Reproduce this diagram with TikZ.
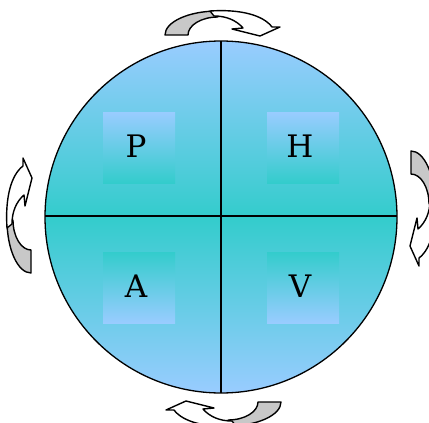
\documentclass[tikz,border=0pt]{standalone}
\usepackage{fontspec}
\setmainfont{DejaVu Serif}
\definecolor{lb}{HTML}{99CCFF}
\definecolor{tq}{HTML}{33CCCC}
\definecolor{ag}{HTML}{C8C8C8}
\begin{document}
\begin{tikzpicture}[x=1pt,y=-1pt,line join=round,
  quad/.style={draw=none,minimum width=72pt,minimum height=71pt,inner sep=0pt},
  lbl/.style={font=\fontsize{31}{31}\selectfont,inner sep=0pt},
  arrowline/.style={draw=black,line width=1.4pt},
  cyclearrow/.pic={
    \filldraw[fill=ag,arrowline] (-56,-182) .. controls (-56,-195.2) and (-32.3,-206) .. (-3,-206)
      -- (-3,-200) .. controls (-19.6,-200) and (-33,-191.9) .. (-33,-182) -- cycle;
    \filldraw[fill=white,arrowline] (-11,-206) .. controls (19,-208) and (42,-202) .. (51,-190)
      -- (59,-190) -- (39,-181) -- (11,-188) -- (22,-189)
      .. controls (15,-197) and (5,-201) .. (-7,-201) -- cycle;
  }]
\clip (0,0) rectangle (429,423);
\fill[white] (0,0) rectangle (429,423);
\coordinate (c) at (221,217);
\fill[top color=lb,bottom color=tq] (45,217) arc[start angle=180,end angle=360,radius=176] -- cycle;
\fill[top color=tq,bottom color=lb] (45,217) arc[start angle=180,end angle=0,radius=176] -- cycle;
\node[quad,top color=lb,bottom color=tq] (sqP) at (139,147.5) {};
\node[quad,top color=lb,bottom color=tq] (sqH) at (303,147.5) {};
\node[quad,top color=tq,bottom color=lb] (sqA) at (139,287.5) {};
\node[quad,top color=tq,bottom color=lb] (sqV) at (303,287.5) {};
\node[lbl] (P) at (136,146) {P};
\node[lbl] (H) at (300,146) {H};
\node[lbl] (A) at (136,286) {A};
\node[lbl] (V) at (300,286) {V};
\coordinate (nT) at (221,41);
\coordinate (nB) at (221,393);
\coordinate (nL) at (45,216);
\coordinate (nR) at (397,216);
\draw[line width=1.3pt] (c) circle[radius=176];
\draw[line width=1.3pt] (nT) -- (nB);
\draw[line width=1.3pt] (nL) -- (nR);
\coordinate (aT) at (221,217);
\coordinate (aR) at (229,207);
\coordinate (aB) at (225,220);
\coordinate (aL) at (213,217);
\pic at (aT) {cyclearrow};
\pic[rotate=-90] at (aR) {cyclearrow};
\pic[rotate=180] at (aB) {cyclearrow};
\pic[rotate=90] at (aL) {cyclearrow};
\end{tikzpicture}
\end{document}
